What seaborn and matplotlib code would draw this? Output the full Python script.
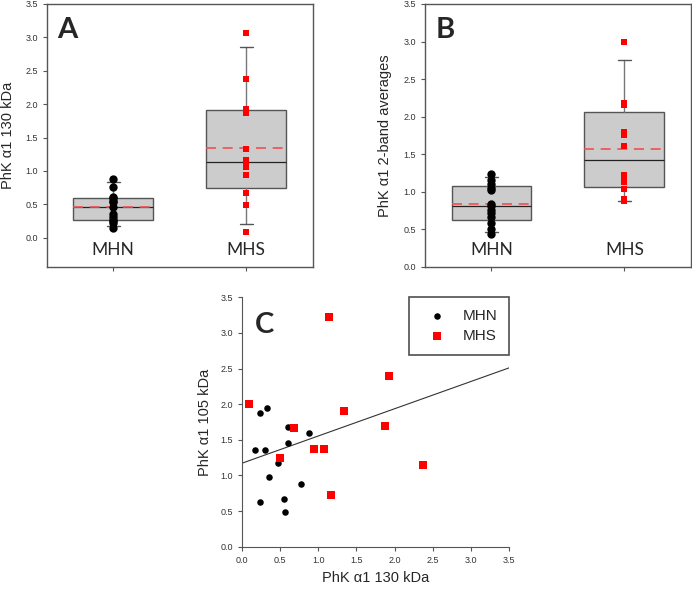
import numpy as np
import seaborn as sns
import matplotlib
matplotlib.use("Agg")
import matplotlib.pyplot as plt

# data
groups = ["MHN", "MHS"]
a_mhn = [0.15, 0.22, 0.25, 0.27, 0.31, 0.36, 0.46, 0.53, 0.55, 0.59, 0.61, 0.76, 0.88]
a_mhs = [0.09, 0.49, 0.67, 0.94, 1.06, 1.11, 1.17, 1.33, 1.86, 1.92, 2.37, 3.07]
b_mhn = [0.43, 0.50, 0.58, 0.66, 0.72, 0.76, 0.815, 0.83, 1.02, 1.05, 1.10, 1.15, 1.23]
b_mhs = [0.87, 0.90, 1.04, 1.13, 1.17, 1.22, 1.61, 1.75, 1.79, 2.15, 2.18, 3.00]
c_mhn_x = [0.24, 0.33, 0.17, 0.31, 0.60, 0.61, 0.88, 0.47, 0.36, 0.78, 0.24, 0.55, 0.56]
c_mhn_y = [1.87, 1.94, 1.36, 1.36, 1.68, 1.46, 1.59, 1.18, 0.98, 0.88, 0.63, 0.67, 0.49]
c_mhs_x = [0.10, 1.14, 1.93, 1.34, 0.68, 1.87, 0.95, 1.07, 0.50, 2.37, 1.17]
c_mhs_y = [2.00, 3.23, 2.40, 1.90, 1.66, 1.70, 1.37, 1.37, 1.24, 1.14, 0.72]
# fitted line as printed in panel C
fit_intercept = 1.17
fit_slope = 0.383
ticks = [0.0, 0.5, 1.0, 1.5, 2.0, 2.5, 3.0, 3.5]

sns.set_style("ticks")
plt.rcParams['font.family'] = ['Liberation Sans', 'DejaVu Sans']
spine_c = "#555555"
lab_font = ['Lato', 'DejaVu Sans']

fig = plt.figure(figsize=(6.92, 5.93), dpi=100)
axA = fig.add_axes([0.0675, 0.5503, 0.3844, 0.443])
axB = fig.add_axes([0.6142, 0.5503, 0.3840, 0.443])
axC = fig.add_axes([0.3493, 0.0781, 0.3867, 0.4206])


def box_stats(vals):
    # SigmaPlot style: 10th/90th percentile whiskers
    v = np.asarray(vals)
    q = np.percentile(v, [10, 25, 50, 75, 90], method="weibull")
    return dict(whislo=q[0], q1=q[1], med=q[2], q3=q[3], whishi=q[4],
                mean=v.mean(), fliers=[])


def box_panel(ax, d1, d2, ylim, ylabel, letter, lab_y, ylabel_x):
    ax.bxp([box_stats(d1), box_stats(d2)], positions=[0, 1], widths=0.6,
           capwidths=0.095, patch_artist=True, showmeans=True, meanline=True,
           boxprops=dict(facecolor="#cccccc", edgecolor=spine_c, linewidth=1),
           whiskerprops=dict(color="#777777", linewidth=1),
           capprops=dict(color="#555555", linewidth=1),
           medianprops=dict(color="#222222", linewidth=0.9),
           meanprops=dict(color="#f05050", linestyle=(0, (6, 4)), linewidth=1.2))
    sns.stripplot(x=[groups[0]] * len(d1), y=d1, order=groups, jitter=False,
                  marker="o", color="black", size=6, ax=ax, zorder=5)
    sns.stripplot(x=[groups[1]] * len(d2), y=d2, order=groups, jitter=False,
                  marker="s", color="red", size=5, ax=ax, zorder=5)
    ax.set_xlim(-0.5, 1.5)
    ax.set_ylim(*ylim)
    ax.set_yticks(ticks)
    ax.set_yticklabels([f"{t:.1f}" for t in ticks])
    ax.set_xticks([0, 1])
    ax.set_xticklabels([])
    for i, g in enumerate(groups):
        ax.text(i, lab_y, g, ha="center", va="center", fontsize=12.5, family=lab_font)
    ax.text(0.04, 0.9, letter, transform=ax.transAxes, ha="left", va="center",
            fontsize=21, fontweight="bold", family=lab_font)
    ax.set_ylabel(ylabel, fontsize=10.5)
    ax.yaxis.set_label_coords(ylabel_x, 0.5)
    ax.set_xlabel("")
    for s in ax.spines.values():
        s.set_color(spine_c)
        s.set_linewidth(1)
    ax.tick_params(colors=spine_c, labelcolor="#333333", labelsize=6.5, length=3, width=0.8)


box_panel(axA, a_mhn, a_mhs, (-0.434, 3.5), "PhK α1 130 kDa", "A", -0.19, -0.12)
box_panel(axB, b_mhn, b_mhs, (0, 3.5), "PhK α1 2-band averages", "B", 0.22, -0.124)

# panel C
sns.scatterplot(x=c_mhn_x, y=c_mhn_y, color="black", marker="o", s=22,
                edgecolor="black", linewidth=0, label="MHN", ax=axC, zorder=4)
sns.scatterplot(x=c_mhs_x, y=c_mhs_y, color="red", marker="s", s=32,
                edgecolor="red", linewidth=0, label="MHS", ax=axC, zorder=4)
axC.axline((0, fit_intercept), slope=fit_slope, color="#333333", linewidth=0.8)
axC.set_xlim(0, 3.5)
axC.set_ylim(0, 3.5)
axC.set_xticks(ticks)
axC.set_xticklabels([f"{t:.1f}" for t in ticks])
axC.set_yticks(ticks)
axC.set_yticklabels([f"{t:.1f}" for t in ticks])
axC.set_xlabel("PhK α1 130 kDa", fontsize=10.5)
axC.set_ylabel("PhK α1 105 kDa", fontsize=10.5)
axC.xaxis.set_label_coords(0.5, -0.097)
axC.yaxis.set_label_coords(-0.111, 0.5)
axC.text(0.05, 0.89, "C", transform=axC.transAxes, ha="left", va="center",
         fontsize=21, fontweight="bold", family=lab_font)
sns.despine(ax=axC)
for s in axC.spines.values():
    s.set_color(spine_c)
axC.tick_params(colors=spine_c, labelcolor="#333333", labelsize=6.5, length=3, width=0.8)
leg = axC.legend(loc="upper right", bbox_to_anchor=(1.0, 1.0), borderaxespad=0,
                 fancybox=False, edgecolor="#222222", fontsize=11, handletextpad=0.68,
                 handlelength=2.0, borderpad=0.8, labelspacing=0.35)
leg.get_frame().set_linewidth(1.2)
leg.set_zorder(10)

fig.savefig("out.png", dpi=100)
